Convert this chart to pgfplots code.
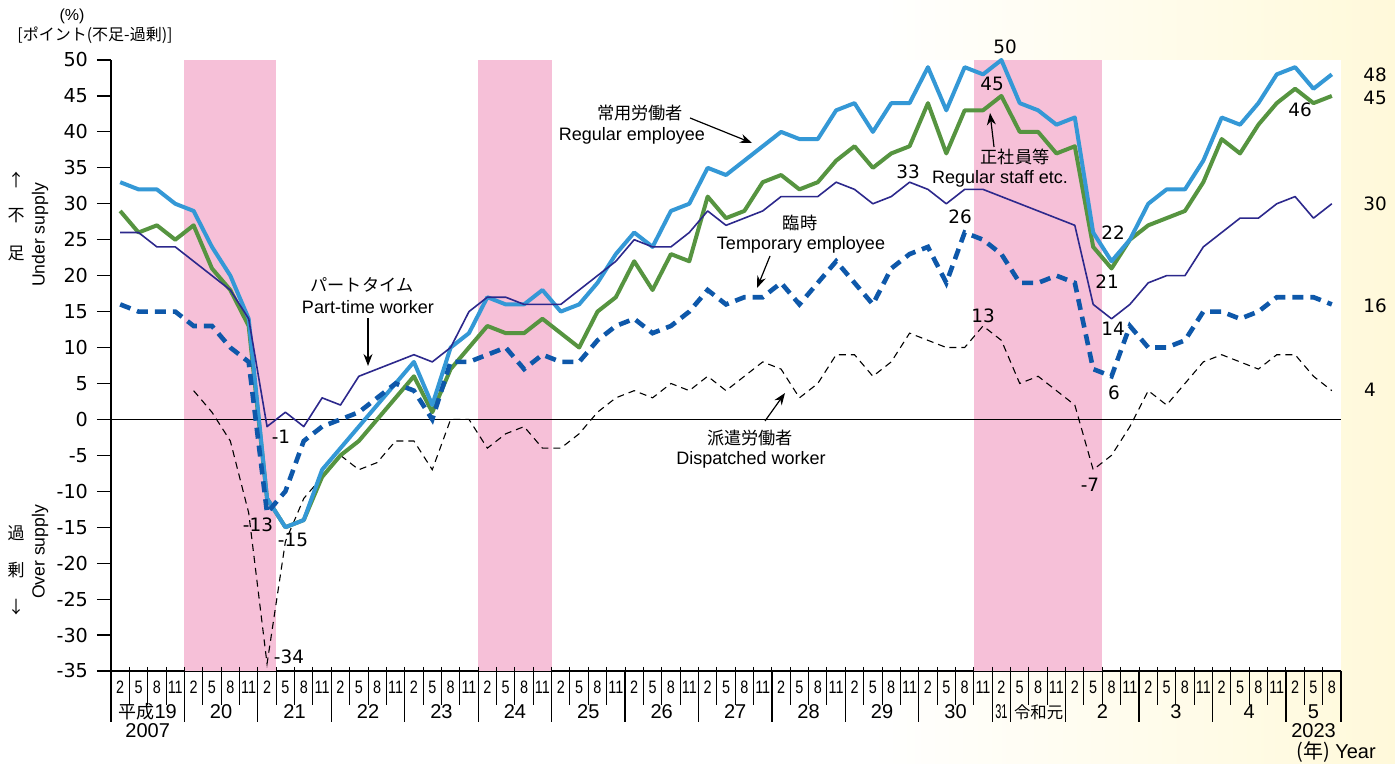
\documentclass[border=0pt]{standalone}
\usepackage{fontspec}
\setmainfont{Liberation Sans}
\newfontfamily\numfont{DejaVu Sans}
\newfontfamily\jp{Noto Sans CJK JP}
\usepackage{pgfplots}
\pgfplotsset{compat=1.18}
\usepackage{pgfplotstable}
\usetikzlibrary{arrows.meta}

\definecolor{reBlue}{RGB}{52,152,214}
\definecolor{rsGreen}{RGB}{86,148,64}
\definecolor{ptNavy}{RGB}{44,40,140}
\definecolor{teBlue}{RGB}{14,88,170}
\definecolor{pinkc}{RGB}{246,192,216}
\definecolor{cream}{RGB}{255,249,218}

\newcommand\sx[1]{\scalebox{0.8}[1]{#1}}

% i = quarter index (0 = 2007 Feb, 66 = 2023 Aug)
% re = regular employee, rs = regular staff, pt = part-time, te = temporary
\pgfplotstableread{
i re rs pt te
0 33 29 26 16
1 32 26 26 15
2 32 27 24 15
3 30 25 24 15
4 29 27 22 13
5 24 21 20 13
6 20 18 18 10
7 14 13 14 8
8 -11 -11 -1 -13
9 -15 -15 1 -10
10 -14 -14 -1 -3
11 -7 -8 3 -1
12 -4 -5 2 0
13 -1 -3 6 1
14 2 0 7 3
15 5 3 8 5
16 8 6 9 4
17 2 1 8 0
18 10 7 10 8
19 12 10 15 8
20 17 13 17 9
21 16 12 17 10
22 16 12 16 7
23 18 14 16 9
24 15 12 16 8
25 16 10 18 8
26 19 15 20 11
27 23 17 22 13
28 26 22 25 14
29 24 18 24 12
30 29 23 24 13
31 30 22 26 15
32 35 31 29 18
33 34 28 27 16
34 36 29 28 17
35 38 33 29 17
36 40 34 31 19
37 39 32 31 16
38 39 33 31 19
39 43 36 33 22
40 44 38 32 19
41 40 35 30 16
42 44 37 31 21
43 44 38 33 23
44 49 44 32 24
45 43 37 30 19
46 49 43 32 26
47 48 43 32 25
48 50 45 31 23
49 44 40 30 19
50 43 40 29 19
51 41 37 28 20
52 42 38 27 19
53 26 24 16 7
54 22 21 14 6
55 25 25 16 13
56 30 27 19 10
57 32 28 20 10
58 32 29 20 11
59 36 33 24 15
60 42 39 26 15
61 41 37 28 14
62 44 41 28 15
63 48 44 30 17
64 49 46 31 17
65 46 44 28 17
66 48 45 30 16
}\maindata

% dispatched worker (from 2008 Feb)
\pgfplotstableread{
i dw
4 4
5 1
6 -3
7 -13
8 -34
9 -17
10 -11
11 -8
12 -5
13 -7
14 -6
15 -3
16 -3
17 -7
18 0
19 0
20 -4
21 -2
22 -1
23 -4
24 -4
25 -2
26 1
27 3
28 4
29 3
30 5
31 4
32 6
33 4
34 6
35 8
36 7
37 3
38 5
39 9
40 9
41 6
42 8
43 12
44 11
45 10
46 10
47 13
48 11
49 5
50 6
51 4
52 2
53 -7
54 -5
55 -1
56 4
57 2
58 5
59 8
60 9
61 8
62 7
63 9
64 9
65 6
66 4
}\dispdata

\begin{document}
\begin{tikzpicture}
\fill[white] (-55.5pt,-46.5pt) rectangle (642pt,335.5pt);
\shade[left color=white,right color=cream] (380pt,-46.5pt) rectangle (642pt,335.5pt);
\begin{axis}[
  at={(0pt,0pt)}, anchor=south west,
  scale only axis, width=615pt, height=305.5pt,
  xmin=-0.5, xmax=66.5, ymin=-35, ymax=50,
  clip=false,
  axis x line*=bottom, axis y line*=left,
  axis line style={line width=0.6pt,black,-},
  axis background/.style={fill=white},
  tick align=outside, major tick length=7pt,
  ytick={-35,-30,...,50},
  yticklabels={-35,-30,-25,-20,-15,-10,-5,0,5,10,15,20,25,30,35,40,45,50},
  ytick style={line width=0.6pt,black},
  yticklabel style={font=\numfont\fontsize{9.6}{10}\selectfont, xshift=-1pt},
  xtick={0,...,66},
  xtick style={draw=none},
  xticklabels={\sx2,\sx5,\sx8,\sx{11},\sx2,\sx5,\sx8,\sx{11},\sx2,\sx5,\sx8,\sx{11},\sx2,\sx5,\sx8,\sx{11},
               \sx2,\sx5,\sx8,\sx{11},\sx2,\sx5,\sx8,\sx{11},\sx2,\sx5,\sx8,\sx{11},\sx2,\sx5,\sx8,\sx{11},
               \sx2,\sx5,\sx8,\sx{11},\sx2,\sx5,\sx8,\sx{11},\sx2,\sx5,\sx8,\sx{11},\sx2,\sx5,\sx8,\sx{11},
               \sx2,\sx5,\sx8,\sx{11},\sx2,\sx5,\sx8,\sx{11},\sx2,\sx5,\sx8,\sx{11},\sx2,\sx5,\sx8,\sx{11},
               \sx2,\sx5,\sx8},
  xticklabel style={font=\fontsize{9}{9}\selectfont, anchor=center, yshift=-1.2pt},
]
% recession shading
\addplot[fill=pinkc, draw=none, forget plot] coordinates {(3.5,-35) (3.5,50) (8.5,50) (8.5,-35)} -- cycle;
\addplot[fill=pinkc, draw=none, forget plot] coordinates {(19.5,-35) (19.5,50) (23.5,50) (23.5,-35)} -- cycle;
\addplot[fill=pinkc, draw=none, forget plot] coordinates {(46.5,-35) (46.5,50) (53.5,50) (53.5,-35)} -- cycle;
% zero line
\addplot[black, line width=0.6pt, forget plot] coordinates {(-0.5,0) (66.5,0)};
% series
\addplot[black, line width=0.55pt, dash pattern=on 3.5pt off 2.5pt] table[x=i,y=dw] {\dispdata};
\addplot[rsGreen, line width=2pt, line join=round] table[x=i,y=rs] {\maindata};
\addplot[reBlue, line width=2pt, line join=round] table[x=i,y=re] {\maindata};
\addplot[teBlue, line width=2.3pt, dash pattern=on 5.5pt off 3.5pt] table[x=i,y=te] {\maindata};
\addplot[ptNavy, line width=0.8pt, line join=round] table[x=i,y=pt] {\maindata};
\end{axis}

\begin{scope}[x=0.5pt, y=-0.5pt, shift={(-55.5pt,335.5pt)}]
% separators below the axis
\foreach \k in {1,...,66} \draw[line width=0.5pt] ({111+\k*18.358},667) -- ({111+\k*18.358},705);
\foreach \k in {0,4,8,12,16,20,24,28,32,36,40,44,48,49,52,56,60,64,67}
  \draw[line width=0.6pt] ({111+\k*18.358},671) -- ({111+\k*18.358},722);
% year labels
\begin{scope}[every node/.style={font=\fontsize{10}{11}\selectfont}]
\node at (147.7,712) {{\jp\fontsize{9}{10}\selectfont 平成}19};
\foreach \xx/\lab in {221.1/20,294.6/21,368.0/22,441.4/23,514.9/24,588.3/25,661.7/26,735.2/27,808.6/28,882.0/29,955.5/30,1102.3/2,1175.8/3,1249.2/4,1313.5/5}
  \node at (\xx,712) {\lab};
\node[font=\fontsize{10}{11}\selectfont] at (1001.4,712) {\scalebox{0.55}[1]{31}};
\node[font=\jp\fontsize{8.2}{9}\selectfont] at (1038.6,712) {令和元};
\node at (147.7,731) {2007};
\node at (1313.5,731) {2023};
\node at (1336,752) {{\jp (年)} Year};
\end{scope}
% axis titles
\node[font=\fontsize{8}{9}\selectfont] at (72,16) {(\%)};
\node[font=\jp\fontsize{8}{9}\selectfont] at (95,35) {[ポイント(不足-過剰)]};
\begin{scope}[every node/.style={font=\jp\fontsize{8.5}{9}\selectfont}]
\node at (16,180) {↑};
\node at (16,216) {不};
\node at (16,253) {足};
\node at (16,533) {過};
\node at (16,570) {剰};
\node at (16,607) {↓};
\end{scope}
\node[rotate=90, font=\fontsize{8.8}{9}\selectfont] at (40,235) {Under supply};
\node[rotate=90, font=\fontsize{8.8}{9}\selectfont] at (40,552) {Over supply};
% series annotations
\begin{scope}[every node/.style={font=\jp\fontsize{8.6}{9}\selectfont}]
\node at (640,113) {常用労働者};
\node at (362,285) {パートタイム};
\node at (800,223) {臨時};
\node at (1015,157) {正社員等};
\node at (750,438) {派遣労働者};
\end{scope}
\begin{scope}[every node/.style={font=\fontsize{9}{10}\selectfont}]
\node at (632,136) {Regular employee};
\node at (368,307) {Part-time worker};
\node at (801,245) {Temporary employee};
\node at (1000,179) {Regular staff etc.};
\node at (751,460) {Dispatched worker};
\end{scope}
\begin{scope}[line width=0.6pt, -{Stealth[length=6pt,width=4.5pt]}]
\draw (690,118) -- (752,143);
\draw (368,318) -- (368,366);
\draw (770,256) -- (757,288);
\draw (994,147) -- (990,113);
\draw (765,421) -- (785,393);
\end{scope}
% value labels
\begin{scope}[every node/.style={font=\numfont\fontsize{9.2}{10}\selectfont}]
\node at (1005,47) {50};
\node at (992,84) {45};
\node at (908,172) {33};
\node at (960,217) {26};
\node at (983,316) {13};
\node at (1113,233) {22};
\node at (1107,282) {21};
\node at (1113,329) {14};
\node at (1114,393) {6};
\node at (1090,485) {-7};
\node at (1300,110) {46};
\node at (1375,75) {48};
\node at (1375,98) {45};
\node at (1375,204) {30};
\node at (1375,306) {16};
\node at (1370,390) {4};
\node at (281,437) {-1};
\node at (258,525) {-13};
\node at (293,540) {-15};
\node at (289,657) {-34};
\end{scope}
\end{scope}
\pgfresetboundingbox
\path[use as bounding box] (-55.5pt,-46.5pt) rectangle (642pt,335.5pt);
\end{tikzpicture}
\end{document}
